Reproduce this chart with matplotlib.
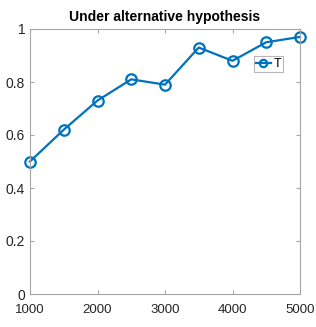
import matplotlib
matplotlib.use("Agg")
import matplotlib.pyplot as plt

plt.rcParams['font.family'] = ['Liberation Sans', 'DejaVu Sans']

x_vals = [1000, 1500, 2000, 2500, 3000, 3500, 4000, 4500, 5000]
t_vals = [0.50, 0.62, 0.73, 0.81, 0.79, 0.93, 0.88, 0.95, 0.97]
x_ticks = [1000, 2000, 3000, 4000, 5000]
y_ticks = [0, 0.2, 0.4, 0.6, 0.8, 1]
y_labels = ['0', '0.2', '0.4', '0.6', '0.8', '1']

fig = plt.figure(figsize=(3.16, 3.27), dpi=100)
ax = fig.add_axes([30/316, 33/327, 270/316, 265/327])
ax.plot(x_vals, t_vals, color='#0072BD', lw=1.6, marker='o', ms=7.5,
        mfc='none', mew=1.6, label='T', clip_on=False)
ax.set_xlim(1000, 5000)
ax.set_ylim(0, 1)
ax.set_xticks(x_ticks)
ax.set_yticks(y_ticks)
ax.set_yticklabels(y_labels)
for s in ax.spines.values():
    s.set_color('#a6a6a6')
    s.set_linewidth(0.8)
ax.tick_params(direction='in', top=True, right=True, length=3, width=0.8,
               color='#a6a6a6', labelcolor='#262626')
ax.tick_params(axis='y', labelsize=10, pad=3.5)
ax.tick_params(axis='x', labelsize=9.5, pad=7)
ax.set_title('Under alternative hypothesis', fontsize=10, fontweight='bold', pad=6)
leg = ax.legend(loc='upper right', bbox_to_anchor=(0.937, 0.898), fontsize=9,
                frameon=True, fancybox=False, handlelength=1.2, handletextpad=0.2,
                borderpad=0.15, borderaxespad=0, markerscale=0.7)
leg.get_frame().set_edgecolor('#a6a6a6')
leg.get_frame().set_linewidth(0.8)
fig.savefig('out.png', dpi=100)
